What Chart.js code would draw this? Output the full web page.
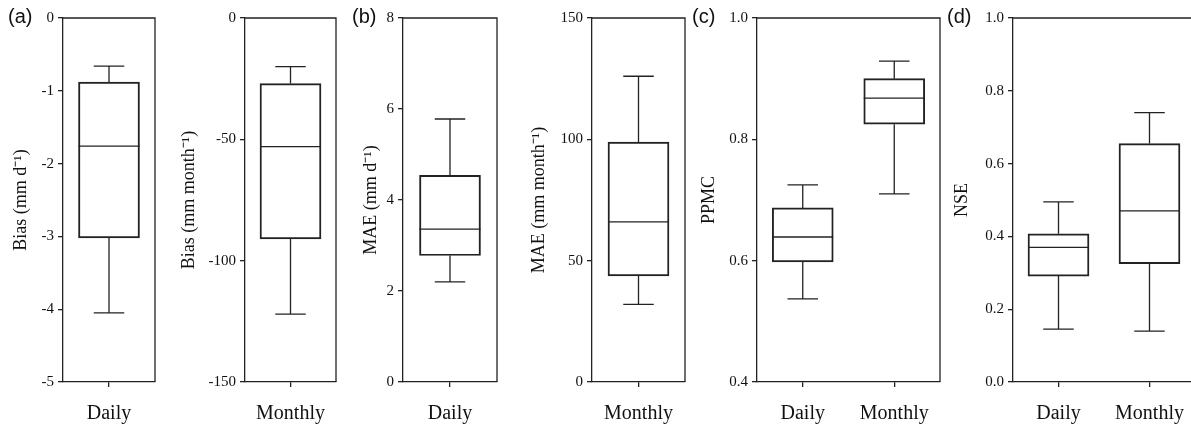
<!DOCTYPE html>
<html>
<head>
<meta charset="utf-8">
<script src="https://cdn.jsdelivr.net/npm/chart.js@4.4.1/dist/chart.umd.min.js"></script>
<style>
  html, body { margin: 0; padding: 0; background: #fff; overflow: hidden; }
  body { width: 1191px; height: 428px; position: relative; }
  canvas { position: absolute; top: 0; }
  .tag { position: absolute; top: 4px; font: 20px "Liberation Sans", Arial, sans-serif; line-height: 24px; color: #111; z-index: 2; }
</style>
</head>
<body>
<div class="tag" style="left:8px">(a)</div>
<div class="tag" style="left:352px">(b)</div>
<div class="tag" style="left:692px">(c)</div>
<div class="tag" style="left:947px">(d)</div>
<canvas id="biasD"></canvas>
<canvas id="biasM"></canvas>
<canvas id="maeD"></canvas>
<canvas id="maeM"></canvas>
<canvas id="ppmc"></canvas>
<canvas id="nse"></canvas>
<script>
// box stats: [lower whisker, Q1, median, Q3, upper whisker]
const biasDaily = [-4.05, -3.02, -1.76, -0.88, -0.66];
const biasMonthly = [-122, -91, -53, -27, -20];
const maeDaily = [2.2, 2.78, 3.36, 4.54, 5.78];
const maeMonthly = [32, 43.7, 66, 98.9, 126];
const ppmcDaily = [0.537, 0.598, 0.639, 0.687, 0.725];
const ppmcMonthly = [0.71, 0.825, 0.868, 0.9, 0.929];
const nseDaily = [0.145, 0.291, 0.37, 0.407, 0.495];
const nseMonthly = [0.14, 0.325, 0.47, 0.655, 0.74];

const dailyOnly = ['Daily'];
const monthlyOnly = ['Monthly'];
const bothScales = ['Daily', 'Monthly'];

const lineColor = '#222';
const textColor = '#111';
const serif = '"Liberation Serif", "Times New Roman", serif';
const lw = 1.3;

// median line and whiskers on top of the floating-bar boxes
const boxWhisker = {
    id: 'boxWhisker',
    afterDatasetsDraw(chart) {
        const ctx = chart.ctx;
        const y = chart.scales.y;
        chart.data.datasets.forEach((ds, i) => {
            chart.getDatasetMeta(i).data.forEach((bar, j) => {
                const s = ds.stats[j];
                const half = bar.width / 2, cap = bar.width / 4;
                const py = v => y.getPixelForValue(v);
                ctx.save();
                ctx.strokeStyle = lineColor;
                ctx.lineWidth = lw;
                ctx.beginPath();
                ctx.moveTo(bar.x - half, py(s[2])); ctx.lineTo(bar.x + half, py(s[2]));
                ctx.moveTo(bar.x, py(s[3])); ctx.lineTo(bar.x, py(s[4]));
                ctx.moveTo(bar.x - cap, py(s[4])); ctx.lineTo(bar.x + cap, py(s[4]));
                ctx.moveTo(bar.x, py(s[1])); ctx.lineTo(bar.x, py(s[0]));
                ctx.moveTo(bar.x - cap, py(s[0])); ctx.lineTo(bar.x + cap, py(s[0]));
                ctx.stroke();
                ctx.restore();
            });
        });
    }
};

// top and right sides of the frame
const frame = {
    id: 'frame',
    afterDraw(chart) {
        const { ctx, chartArea: a } = chart;
        ctx.save();
        ctx.strokeStyle = lineColor;
        ctx.lineWidth = lw;
        ctx.beginPath();
        ctx.moveTo(a.left, a.top);
        ctx.lineTo(a.right, a.top);
        ctx.lineTo(a.right, a.bottom);
        ctx.stroke();
        ctx.restore();
    }
};

function boxChart(id, left, yWidth, right, labels, series, title, yMin, yMax, step, dec) {
    const canvas = document.getElementById(id);
    canvas.width = right + 3 - left;
    canvas.height = 428;
    canvas.style.left = left + 'px';
    new Chart(canvas.getContext('2d'), {
        type: 'bar',
        data: {
            labels: labels,
            datasets: [{
                data: series.map(s => [s[1], s[3]]),
                stats: series,
                backgroundColor: 'rgba(0,0,0,0)',
                borderColor: lineColor,
                borderWidth: lw,
                borderSkipped: false,
                barThickness: 61,
            }],
        },
        options: {
            responsive: false,
            animation: false,
            layout: { padding: { top: 18, right: 3, left: 0, bottom: 0 } },
            plugins: {
                legend: { display: false },
                tooltip: { enabled: false },
            },
            scales: {
                x: {
                    grid: { drawOnChartArea: false, offset: false, tickLength: 5, color: lineColor, lineWidth: lw },
                    border: { color: lineColor, width: lw },
                    // tall line height pushes the label down without adding side padding
                    ticks: { color: textColor, padding: 0, font: { family: serif, size: 20, lineHeight: 2.7 } },
                    afterFit: s => { s.height = 46; },
                },
                y: {
                    min: yMin,
                    max: yMax,
                    grid: { drawOnChartArea: false, tickLength: 5, color: lineColor, lineWidth: lw },
                    border: { color: lineColor, width: lw },
                    ticks: { stepSize: step, padding: 4, color: textColor, font: { family: serif, size: 15 },
                        callback: v => Number(v).toFixed(dec) },
                    title: { display: true, text: title, color: textColor, padding: 0, font: { family: serif, size: 18 } },
                    afterFit: s => { s.width = yWidth; },
                }
            }
        },
        plugins: [boxWhisker, frame]
    });
}

boxChart('biasD', 10, 53, 155, dailyOnly, [biasDaily], 'Bias (mm d\u207B\u00B9)', -5, 0, 1, 0);
boxChart('biasM', 178, 67, 336, monthlyOnly, [biasMonthly], 'Bias (mm month\u207B\u00B9)', -150, 0, 50, 0);
boxChart('maeD', 360, 43, 497, dailyOnly, [maeDaily], 'MAE (mm d\u207B\u00B9)', 0, 8, 2, 0);
boxChart('maeM', 528, 64, 685, monthlyOnly, [maeMonthly], 'MAE (mm month\u207B\u00B9)', 0, 150, 50, 0);
boxChart('ppmc', 698, 59, 940, bothScales, [ppmcDaily, ppmcMonthly], 'PPMC', 0.4, 1.0, 0.2, 1);
boxChart('nse', 951, 62, 1195, bothScales, [nseDaily, nseMonthly], 'NSE', 0, 1.0, 0.2, 1);
</script>
</body>
</html>
